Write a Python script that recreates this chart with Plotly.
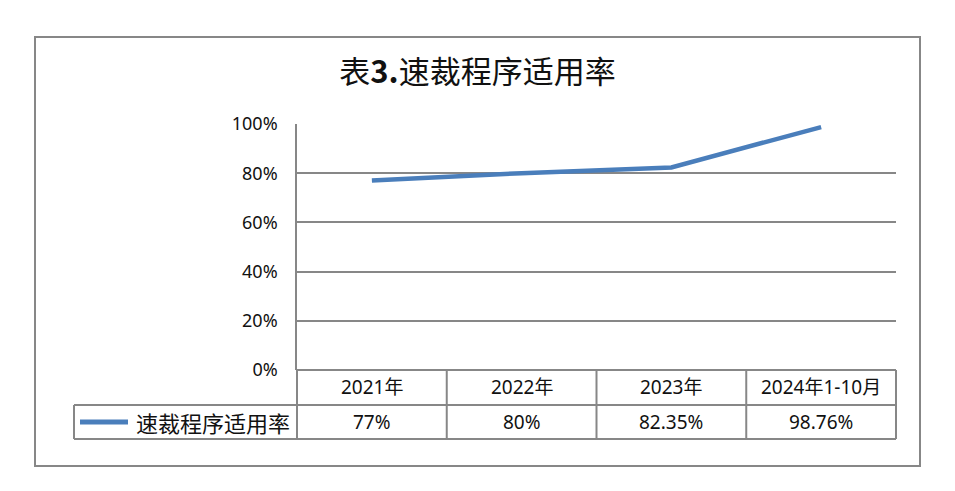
import plotly.graph_objs as go

# data
categories = ["2021年", "2022年", "2023年", "2024年1-10月"]
rates = [77, 80, 82.35, 98.76]
series_name = "速裁程序适用率"
title_text = "表<b>3.</b>速裁程序适用率"
y_ticks = [0, 20, 40, 60, 80, 100]
y_ticktext = ["0%", "20%", "40%", "60%", "80%", "100%"]

blue = "#4a7ebb"
grey = "#878787"
txt = "#111111"
font_num = "Noto Sans, Noto Sans CJK SC"
font_cjk = "Noto Sans CJK SC"

# plot area in pixels: x 297..896, y 124..370
W, H = 955, 491
L, R, T, B = 297, 896, 124, 370
pw, ph = R - L, B - T

def px(x):  # pixel x -> paper x
    return (x - L) / pw

def py(y):  # pixel y -> paper y
    return (B - y) / ph

line = go.Scatter(x=categories, y=rates, mode="lines", name=series_name,
                  line=dict(color=blue, width=4.5), showlegend=False)

layout = go.Layout(
    width=W, height=H,
    margin=dict(l=L, r=W - R, t=T, b=H - B),
    paper_bgcolor="white", plot_bgcolor="white",
    title=dict(text=title_text, x=0.5, xanchor="center", y=1 - 72 / H, yanchor="middle",
               font=dict(family=font_cjk, size=31, color=txt)),
    xaxis=dict(type="category", range=[-0.5, 3.5], showticklabels=False,
               showgrid=False, zeroline=False, showline=False, fixedrange=True),
    yaxis=dict(range=[0, 100], tickmode="array", tickvals=y_ticks, ticktext=y_ticktext,
               showgrid=True, gridcolor=grey, gridwidth=1.5, zeroline=False, showline=True,
               linecolor=grey, linewidth=1.5, ticks="", ticklabelstandoff=14,
               tickfont=dict(family=font_num, size=18, color=txt)),
)

fig = go.Figure(data=[line], layout=layout)

# data table under the chart
hdr_y = py(405)
bot_y = py(439)
left_x = px(74)
n = len(categories)
lw = dict(color=grey, width=2)
fig.add_shape(type="line", xref="paper", yref="paper", x0=0, x1=1, y0=0, y1=0, line=lw)
fig.add_shape(type="line", xref="paper", yref="paper", x0=left_x, x1=1, y0=hdr_y, y1=hdr_y, line=lw)
fig.add_shape(type="line", xref="paper", yref="paper", x0=left_x, x1=1, y0=bot_y, y1=bot_y, line=lw)
fig.add_shape(type="line", xref="paper", yref="paper", x0=left_x, x1=left_x, y0=hdr_y, y1=bot_y, line=lw)
for i in range(n + 1):
    fig.add_shape(type="line", xref="paper", yref="paper", x0=i / n, x1=i / n, y0=0, y1=bot_y, line=lw)

for c, v in zip(categories, rates):
    fig.add_annotation(x=c, xref="x", y=py(387), yref="paper", text=c, showarrow=False,
                       xanchor="center", yanchor="middle",
                       font=dict(family=font_num, size=19, color=txt))
    fig.add_annotation(x=c, xref="x", y=py(422), yref="paper", text=f"{v:g}%", showarrow=False,
                       xanchor="center", yanchor="middle",
                       font=dict(family=font_num, size=19, color=txt))

# legend key inside the table
fig.add_shape(type="line", xref="paper", yref="paper", x0=px(80), x1=px(128), y0=py(422), y1=py(422),
              line=dict(color=blue, width=5))
fig.add_annotation(x=px(213), xref="paper", y=py(422), yref="paper", text=series_name, showarrow=False,
                   xanchor="center", yanchor="middle",
                   font=dict(family=font_cjk, size=22, color=txt))

# outer chart border
fig.add_shape(type="rect", xref="paper", yref="paper", x0=px(35), x1=px(920), y0=py(466), y1=py(37),
              line=dict(color=grey, width=2))

fig.write_html("out.html", config={"displayModeBar": False},
               post_script="document.body.style.margin='0';")
